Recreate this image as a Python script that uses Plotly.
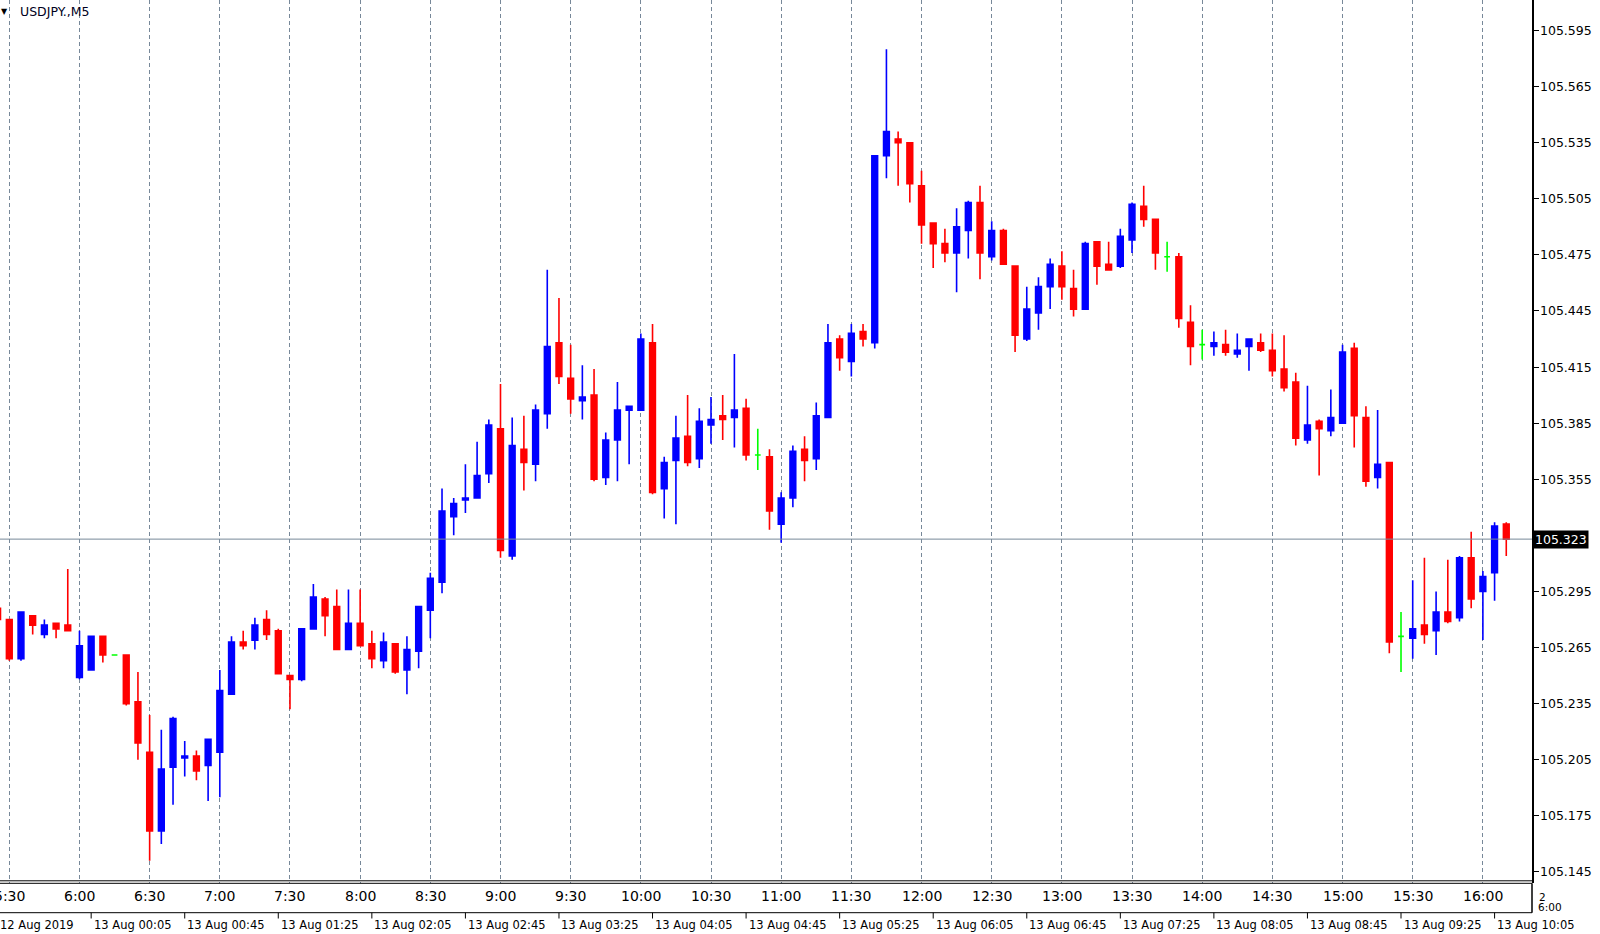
import numpy as np
import pandas as pd
import plotly.graph_objects as go

# ── DATA: USDJPY M5 bars ──────────────────────────────────────────────
SYMBOL = "USDJPY.,M5"
FIRST_BAR = "2019-08-13 05:25"

open_ = [
    105.286, 105.280, 105.259, 105.282, 105.272, 105.278, 105.277, 105.249, 105.253, 105.271,
    105.261, 105.261, 105.236, 105.209, 105.167, 105.201, 105.206, 105.207, 105.202, 105.209,
    105.240, 105.268, 105.269, 105.280, 105.274, 105.250, 105.248, 105.275, 105.291, 105.287,
    105.264, 105.278, 105.267, 105.258, 105.267, 105.253, 105.263, 105.285, 105.300, 105.335,
    105.344, 105.345, 105.358, 105.382, 105.314, 105.371, 105.363, 105.390, 105.428, 105.409,
    105.397, 105.400, 105.356, 105.376, 105.392, 105.392, 105.428, 105.350, 105.365, 105.378,
    105.366, 105.384, 105.389, 105.388, 105.393, 105.368, 105.367, 105.331, 105.345, 105.371,
    105.366, 105.388, 105.430, 105.418, 105.434, 105.428, 105.528, 105.537, 105.535, 105.512,
    105.492, 105.481, 105.476, 105.488, 105.503, 105.474, 105.488, 105.469, 105.430, 105.444,
    105.458, 105.469, 105.457, 105.446, 105.482, 105.470, 105.469, 105.483, 105.501, 105.494,
    105.474, 105.474, 105.439, 105.427, 105.426, 105.427, 105.422, 105.426, 105.428, 105.424,
    105.414, 105.407, 105.376, 105.386, 105.381, 105.385, 105.425, 105.388, 105.356, 105.364,
    105.271, 105.270, 105.277, 105.274, 105.284, 105.281, 105.313, 105.295, 105.305, 105.331,
]
high = [
    105.286, 105.280, 105.284, 105.282, 105.280, 105.278, 105.307, 105.274, 105.271, 105.271,
    105.261, 105.261, 105.252, 105.229, 105.221, 105.228, 105.215, 105.210, 105.216, 105.253,
    105.271, 105.274, 105.281, 105.285, 105.275, 105.250, 105.275, 105.299, 105.292, 105.296,
    105.296, 105.296, 105.274, 105.273, 105.267, 105.271, 105.287, 105.305, 105.350, 105.345,
    105.363, 105.375, 105.387, 105.406, 105.388, 105.389, 105.395, 105.467, 105.452, 105.427,
    105.416, 105.414, 105.380, 105.407, 105.394, 105.433, 105.438, 105.367, 105.389, 105.400,
    105.393, 105.399, 105.400, 105.422, 105.398, 105.382, 105.371, 105.348, 105.373, 105.378,
    105.396, 105.438, 105.432, 105.438, 105.438, 105.528, 105.585, 105.541, 105.535, 105.520,
    105.492, 105.489, 105.500, 105.504, 105.512, 105.493, 105.489, 105.469, 105.458, 105.463,
    105.473, 105.477, 105.467, 105.482, 105.482, 105.482, 105.489, 105.503, 105.512, 105.494,
    105.482, 105.476, 105.448, 105.435, 105.434, 105.435, 105.433, 105.430, 105.433, 105.433,
    105.432, 105.412, 105.405, 105.387, 105.403, 105.427, 105.428, 105.394, 105.392, 105.364,
    105.284, 105.301, 105.313, 105.295, 105.312, 105.314, 105.327, 105.306, 105.332, 105.332,
]
low = [
    105.280, 105.258, 105.258, 105.272, 105.270, 105.270, 105.274, 105.248, 105.253, 105.257,
    105.261, 105.234, 105.205, 105.151, 105.160, 105.181, 105.196, 105.194, 105.183, 105.185,
    105.240, 105.264, 105.264, 105.269, 105.251, 105.232, 105.247, 105.275, 105.271, 105.264,
    105.264, 105.266, 105.254, 105.254, 105.251, 105.240, 105.254, 105.270, 105.294, 105.325,
    105.337, 105.345, 105.353, 105.313, 105.312, 105.349, 105.354, 105.382, 105.406, 105.390,
    105.387, 105.354, 105.352, 105.354, 105.363, 105.392, 105.347, 105.334, 105.331, 105.362,
    105.361, 105.374, 105.376, 105.372, 105.365, 105.360, 105.328, 105.321, 105.340, 105.354,
    105.360, 105.388, 105.413, 105.410, 105.426, 105.425, 105.516, 105.512, 105.503, 105.481,
    105.468, 105.471, 105.455, 105.473, 105.462, 105.472, 105.470, 105.423, 105.429, 105.435,
    105.446, 105.451, 105.442, 105.446, 105.459, 105.467, 105.468, 105.476, 105.490, 105.467,
    105.466, 105.436, 105.416, 105.419, 105.421, 105.421, 105.420, 105.413, 105.423, 105.410,
    105.402, 105.373, 105.374, 105.357, 105.378, 105.385, 105.372, 105.351, 105.350, 105.262,
    105.252, 105.259, 105.267, 105.261, 105.278, 105.279, 105.286, 105.269, 105.290, 105.314,
]
close = [
    105.280, 105.259, 105.284, 105.277, 105.277, 105.275, 105.274, 105.266, 105.271, 105.261,
    105.261, 105.235, 105.214, 105.167, 105.200, 105.227, 105.207, 105.199, 105.216, 105.242,
    105.268, 105.266, 105.277, 105.272, 105.251, 105.248, 105.275, 105.292, 105.282, 105.264,
    105.278, 105.266, 105.259, 105.268, 105.252, 105.264, 105.287, 105.302, 105.338, 105.342,
    105.345, 105.357, 105.384, 105.317, 105.373, 105.364, 105.392, 105.426, 105.410, 105.398,
    105.399, 105.355, 105.376, 105.392, 105.394, 105.430, 105.348, 105.364, 105.377, 105.364,
    105.386, 105.387, 105.387, 105.392, 105.368, 105.368, 105.338, 105.345, 105.370, 105.365,
    105.389, 105.428, 105.420, 105.433, 105.430, 105.528, 105.541, 105.535, 105.513, 105.491,
    105.481, 105.476, 105.490, 105.503, 105.476, 105.488, 105.470, 105.432, 105.446, 105.458,
    105.470, 105.458, 105.446, 105.481, 105.469, 105.467, 105.485, 105.502, 105.494, 105.476,
    105.474, 105.441, 105.426, 105.427, 105.428, 105.423, 105.424, 105.430, 105.424, 105.413,
    105.404, 105.377, 105.384, 105.382, 105.388, 105.423, 105.389, 105.354, 105.363, 105.268,
    105.271, 105.275, 105.272, 105.284, 105.279, 105.313, 105.291, 105.303, 105.330, 105.323,
]

PRICE_TICKS = [105.145, 105.175, 105.205, 105.235, 105.265, 105.295, 105.325, 105.355,
               105.385, 105.415, 105.445, 105.475, 105.505, 105.535, 105.565, 105.595]

# second time scale (MT4 bottom row), one label every 8 bars starting at bar 0
DATE_LABELS = ["12 Aug 2019", "13 Aug 00:05", "13 Aug 00:45", "13 Aug 01:25", "13 Aug 02:05",
               "13 Aug 02:45", "13 Aug 03:25", "13 Aug 04:05", "13 Aug 04:45", "13 Aug 05:25",
               "13 Aug 06:05", "13 Aug 06:45", "13 Aug 07:25", "13 Aug 08:05", "13 Aug 08:45",
               "13 Aug 09:25", "13 Aug 10:05"]
DATE_STEP = 8

# ── STYLE ─────────────────────────────────────────────────────────────
UP, DOWN, FLAT = "#0000ff", "#ff0000", "#00ff00"
GRID = "#778899"
FONT = "DejaVu Sans"
W, H = 1600, 934
PLOT_W, PLOT_H = 1532, 883
Y_RANGE = [105.1391, 105.6113]

o, h, l, c = (np.array(v) for v in (open_, high, low, close))
bar = pd.Timedelta("5min")
times = pd.date_range(FIRST_BAR, periods=len(c), freq="5min")
x0 = times[0] + bar * 0.205
x1 = times[0] + bar * 131.2


def below(px):
    """paper-y for a point px pixels under the plot bottom"""
    return -px / PLOT_H


def paper_x(t):
    return (t - x0) / (x1 - x0)


def candles(mask, colour):
    side = dict(line=dict(color=colour, width=1.6), fillcolor=colour)
    return go.Candlestick(
        x=times[mask], open=o[mask], high=h[mask], low=l[mask], close=c[mask],
        increasing=side, decreasing=side, showlegend=False,
    )


fig = go.Figure()
fig.add_trace(candles(c > o, UP))
fig.add_trace(candles(c < o, DOWN))
fig.add_trace(candles(c == o, FLAT))

grid_times = times[times.minute % 30 == 0]
date_times = times[::DATE_STEP]

shapes = [
    # double frame line under the chart
    dict(type="line", xref="paper", yref="paper", x0=0, x1=1, y0=-below(2.2), y1=-below(2.2),
         line=dict(color="black", width=1)),
    dict(type="line", xref="paper", yref="paper", x0=0, x1=1, y0=below(0.3), y1=below(0.3),
         line=dict(color="black", width=1)),
    # time scale box
    dict(type="line", xref="paper", yref="paper", x0=0, x1=1, y0=below(29.7), y1=below(29.7),
         line=dict(color="black", width=1)),
    dict(type="line", xref="paper", yref="paper", x0=1, x1=1, y0=below(0.3), y1=below(29.7),
         line=dict(color="black", width=1.5)),
    # current price line
    dict(type="line", xref="paper", yref="y", x0=0, x1=1, y0=c[-1], y1=c[-1],
         line=dict(color=GRID, width=1)),
]
for t in date_times[1:]:
    shapes.append(dict(type="line", xref="x", yref="paper", x0=t, x1=t,
                       y0=below(29.7), y1=below(35.5), line=dict(color="black", width=1)))

annotations = [
    dict(text="▼", xref="paper", yref="paper", x=4 / PLOT_W, y=1 - 11 / PLOT_H,
         xanchor="center", yanchor="middle", showarrow=False,
         font=dict(family=FONT, size=8, color="black")),
    dict(text=SYMBOL, xref="paper", yref="paper", x=18 / PLOT_W, y=1 - 11 / PLOT_H,
         xanchor="left", yanchor="middle", showarrow=False,
         font=dict(family=FONT, size=12.5, color="#000020")),
    # leftovers MT4 draws at the right end of the time scale
    dict(text="2", xref="paper", yref="paper", x=1, y=below(14), xanchor="left",
         yanchor="middle", xshift=5, showarrow=False,
         font=dict(family=FONT, size=10.5, color="black")),
    dict(text="6:00", xref="paper", yref="paper", x=1, y=below(24), xanchor="left",
         yanchor="middle", xshift=4, showarrow=False,
         font=dict(family=FONT, size=10.5, color="black")),
]
# price scale labels (the one under the last-price tag is hidden, as in MT4)
for p in PRICE_TICKS:
    if abs(p - c[-1]) < 0.004:
        continue
    annotations.append(dict(text=f"{p:.3f}", xref="paper", yref="y", x=1, y=p,
                            xanchor="left", yanchor="middle", xshift=6, showarrow=False,
                            font=dict(family=FONT, size=12.5, color="black")))
# last price tag on the price scale
annotations.append(dict(text=f"{c[-1]:.3f}", xref="paper", yref="y", x=1, y=c[-1],
                        xanchor="left", yanchor="middle", xshift=1, showarrow=False,
                        bgcolor="black", borderpad=1,
                        font=dict(family=FONT, size=12.5, color="white")))
for t in grid_times:
    annotations.append(dict(text=f"{t.hour}:{t.minute:02d}", xref="x", yref="paper", x=t,
                            y=below(13.3), xanchor="center", yanchor="middle", showarrow=False,
                            font=dict(family=FONT, size=14, color="black")))
for t, lab in zip(date_times, DATE_LABELS):
    annotations.append(dict(text=lab, xref="paper", yref="paper", x=paper_x(t),
                            y=below(42), xanchor="left", yanchor="middle", xshift=0.5,
                            showarrow=False, font=dict(family=FONT, size=11.5, color="black")))

fig.update_layout(
    width=W, height=H,
    margin=dict(l=0, r=W - PLOT_W, t=0, b=H - PLOT_H),
    plot_bgcolor="white", paper_bgcolor="white",
    boxgap=0.3,
    showlegend=False,
    shapes=shapes,
    annotations=annotations,
    xaxis=dict(
        type="date", range=[x0, x1], rangeslider=dict(visible=False),
        tickvals=list(grid_times), showticklabels=False, ticks="",
        showgrid=True, gridcolor=GRID, gridwidth=1, griddash="4px,3px",
        zeroline=False, showline=False,
    ),
    yaxis=dict(
        side="right", range=Y_RANGE, tickvals=PRICE_TICKS, showticklabels=False,
        ticks="outside", ticklen=5, tickcolor="black", tickwidth=1,
        showgrid=False, zeroline=False, showline=True, linecolor="black", linewidth=2,
    ),
)

# browsers give <body> an 8px margin; drop it so the figure sits at 0,0
fig.write_html("out.html", config={"displayModeBar": False},
               post_script="document.body.style.margin='0';")
